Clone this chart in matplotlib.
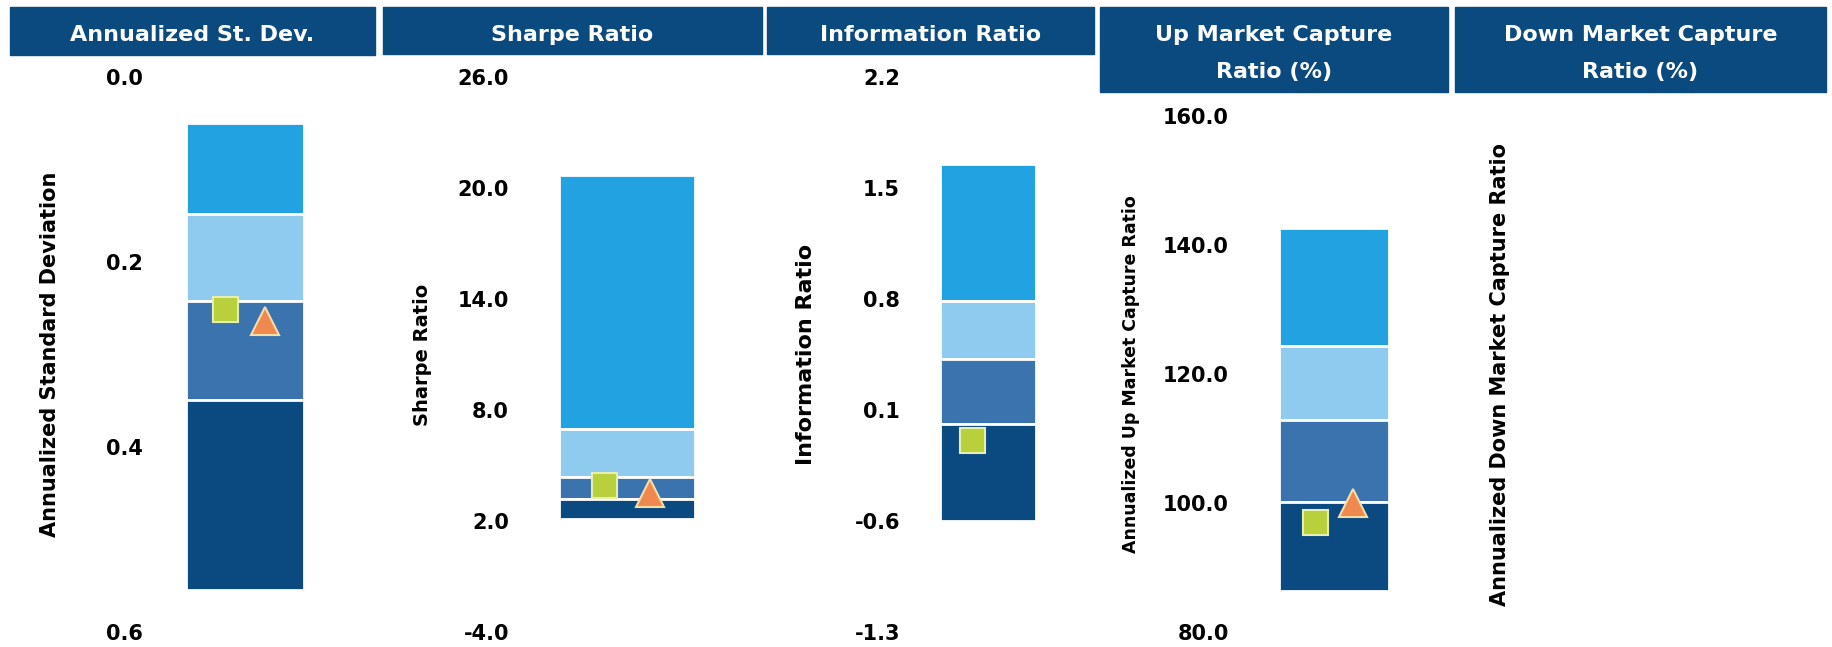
import matplotlib.pyplot as plt
from matplotlib.patches import Rectangle

plt.rcParams['font.family'] = ['DejaVu Sans']
plt.rcParams['font.weight'] = 'bold'

# quartile band boundaries, listed from the top of each bar to the bottom
stdev_bounds  = [0.05, 0.148, 0.242, 0.349, 0.555]
sharpe_bounds = [20.7, 7.0, 4.4, 3.2, 2.1]
info_bounds   = [1.65, 0.79, 0.42, 0.01, -0.60]
upcap_bounds  = [142.6, 124.4, 112.9, 100.1, 86.4]

# fund (square) and benchmark (triangle) values; None = not shown
fund_vals  = [0.251, 3.93, -0.09, 97.0]
bench_vals = [0.264, 3.5, None, 100.0]

headers = [['Annualized St. Dev.'], ['Sharpe Ratio'], ['Information Ratio'],
           ['Up Market Capture', 'Ratio (%)'], ['Down Market Capture', 'Ratio (%)']]
ylabels = ['Annualized Standard Deviation', 'Sharpe Ratio', 'Information Ratio',
           'Annualized Up Market Capture Ratio', 'Annualized Down Market Capture Ratio']
yticks = [[0.0, 0.2, 0.4, 0.6],
          [-4.0, 2.0, 8.0, 14.0, 20.0, 26.0],
          [-1.3, -0.6, 0.1, 0.8, 1.5, 2.2],
          [80.0, 100.0, 120.0, 140.0, 160.0]]

band_colors = ['#22a2e0', '#8ecbee', '#3a73ae', '#0b4a80']
HEADER = '#0b4a7e'

W, H = 1832, 647
fig = plt.figure(figsize=(W / 100, H / 100), dpi=100)

def fx(px): return px / W
def fy(py): return 1 - py / H

# layout in pixels: bar left/right, axis top/bottom, tick label right edge, ylabel x
panels = [
    dict(x0=186, x1=304, top=77, bot=632, lab=143, ylx=50, inv=True),
    dict(x0=559, x1=695, top=77, bot=632, lab=509, ylx=423, inv=False),
    dict(x0=940, x1=1036, top=77, bot=632, lab=900, ylx=806, inv=False),
    dict(x0=1279, x1=1389, top=116, bot=632, lab=1229, ylx=1131, inv=False),
]
head_boxes = [(10, 375, 7, 55), (383, 762, 7, 54), (767, 1094, 7, 54),
              (1100, 1448, 7, 92), (1455, 1826, 7, 92)]
line_y = [35, 72]
bounds_all = [stdev_bounds, sharpe_bounds, info_bounds, upcap_bounds]
ylabel_fs = [15, 14, 16, 12.5, 15]

for (l, r, t, b), lines in zip(head_boxes, headers):
    fig.add_artist(Rectangle((fx(l), fy(b)), fx(r - l), (b - t) / H,
                             transform=fig.transFigure, color=HEADER, zorder=0))
    for j, txt in enumerate(lines):
        fig.text(fx((l + r) / 2), fy(line_y[j]), txt, color='white', fontsize=16,
                 ha='center', va='center')

for i, p in enumerate(panels):
    ax = fig.add_axes([fx(p['x0']), fy(p['bot']), fx(p['x1'] - p['x0']),
                       (p['bot'] - p['top']) / H])
    bnds = bounds_all[i]
    for k in range(4):
        lo, hi = sorted([bnds[k], bnds[k + 1]])
        ax.bar(0, hi - lo, bottom=lo, width=1.0, color=band_colors[k],
               edgecolor='white', linewidth=2)
    ax.set_xlim(-0.5, 0.5)
    tk = yticks[i]
    if p['inv']:
        ax.set_ylim(tk[-1], tk[0])
    else:
        ax.set_ylim(tk[0], tk[-1])
    ax.set_yticks(tk)
    ax.set_yticklabels([f'{v:.1f}' for v in tk], fontsize=15, fontweight='bold')
    ax.tick_params(axis='y', length=0, pad=(p['x0'] - p['lab']) * 0.72)
    ax.set_xticks([])
    for s in ax.spines.values():
        s.set_visible(False)
    ax.patch.set_alpha(0)

    if fund_vals[i] is not None:
        ax.plot(-0.17, fund_vals[i], marker='s', markersize=18, color='#b7d03c',
                markeredgecolor='#e6efb0', markeredgewidth=1.5, clip_on=False)
    if bench_vals[i] is not None:
        ax.plot(0.17, bench_vals[i], marker='^', markersize=20, color='#f0894e',
                markeredgecolor='#f9dca6', markeredgewidth=1.5, clip_on=False)

    ax.set_ylabel(ylabels[i], fontsize=ylabel_fs[i], fontweight='bold', va='center')
    ax.yaxis.set_label_coords((p['ylx'] - p['x0']) / (p['x1'] - p['x0']), 0.5)

# last panel has no data, only its axis title
ax5 = fig.add_axes([fx(1520), fy(632), fx(280), (632 - 116) / H])
ax5.set_xticks([])
ax5.set_yticks([])
for s in ax5.spines.values():
    s.set_visible(False)
ax5.patch.set_alpha(0)
ax5.set_ylabel(ylabels[4], fontsize=ylabel_fs[4], fontweight='bold', va='center')
ax5.yaxis.set_label_coords((1500 - 1520) / 280, 0.5)

fig.savefig('out.png', dpi=100)
